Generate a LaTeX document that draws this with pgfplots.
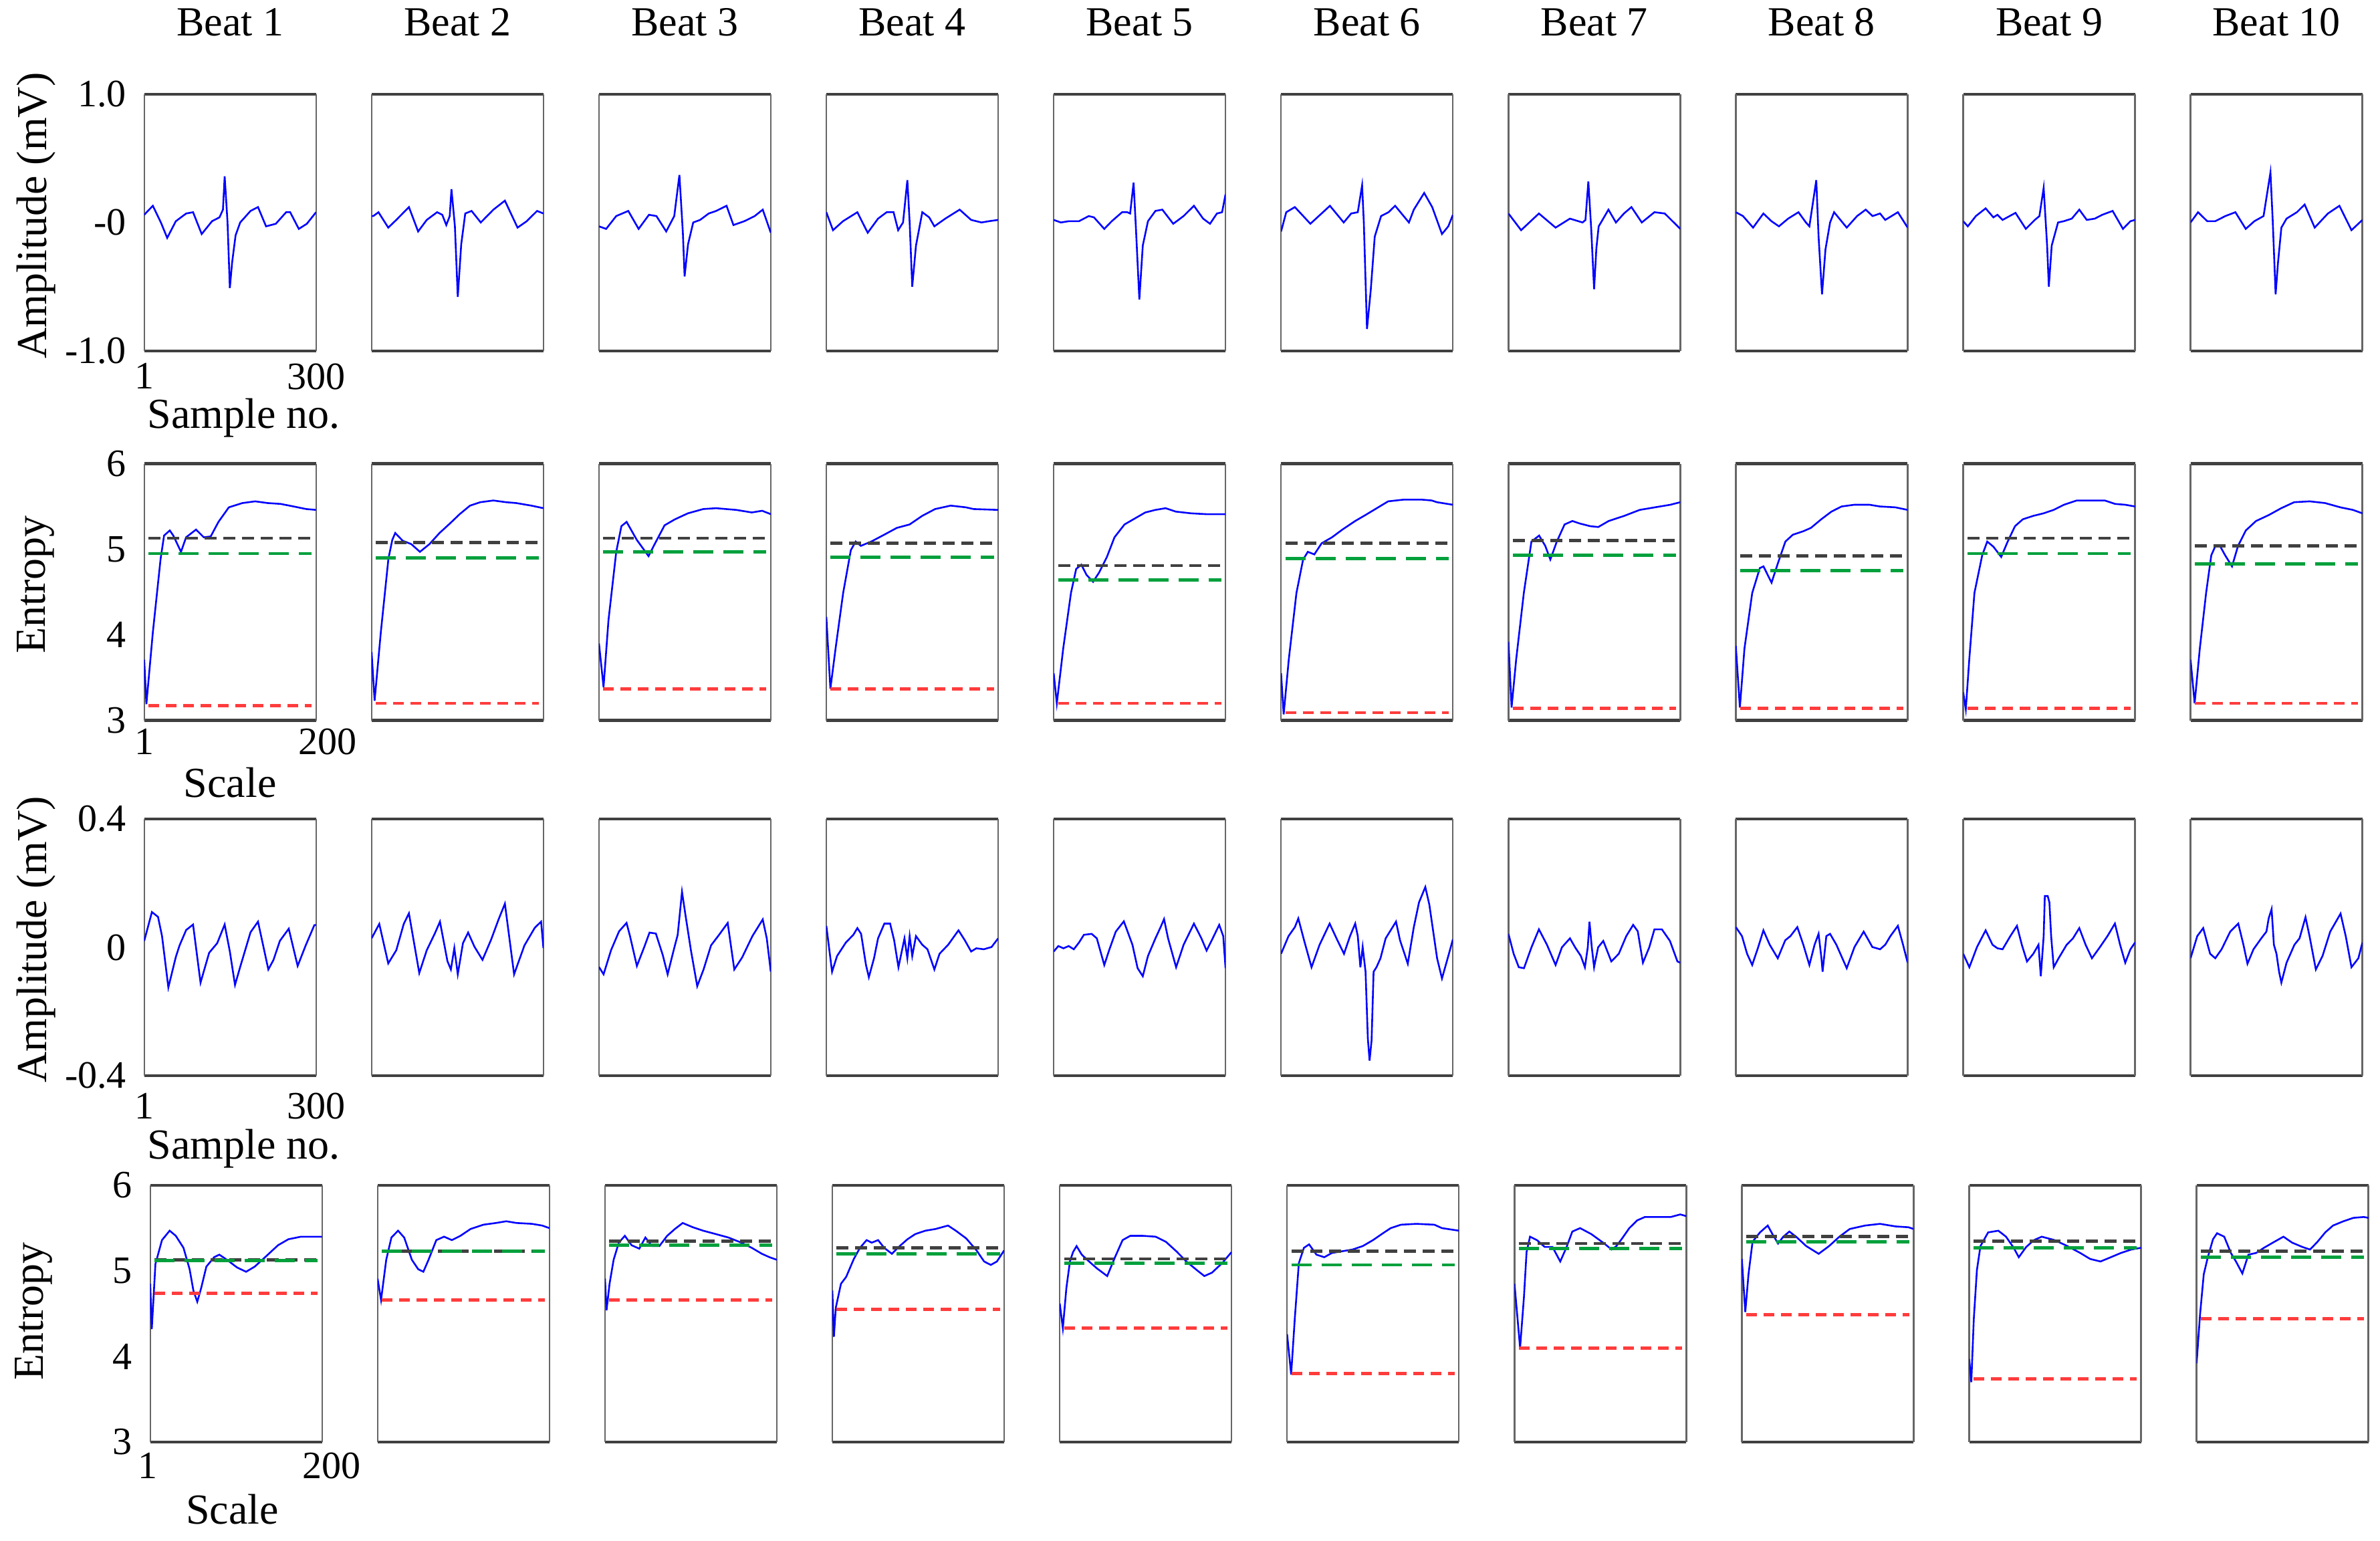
\documentclass[border=0pt]{standalone}
\usepackage{fontspec}
\setmainfont{Liberation Serif}
\usepackage{pgfplots}
\pgfplotsset{compat=1.18}

\definecolor{eblue}{RGB}{0,0,255}
\definecolor{egray}{RGB}{64,64,64}
\definecolor{egreen}{RGB}{0,160,60}
\definecolor{ered}{RGB}{255,60,60}

\newcommand{\tkfont}{\fontsize{14.5}{17}\selectfont}
\newcommand{\lbfont}{\fontsize{16}{19}\selectfont}
\newcommand{\titlefont}{\fontsize{15.5}{18}\selectfont}

\pgfplotsset{
 panel/.style={scale only axis, width=64.25pt, height=96pt, anchor=south west,
   xtick=\empty, ytick=\empty, major tick length=0pt,
   separate axis lines,
   x axis line style={line width=1.1pt, draw=black!75},
   y axis line style={line width=0.6pt, draw=black!60},
   tick label style={font=\tkfont},
   yticklabel style={anchor=east, inner sep=0pt, xshift=-6.5pt},
   xticklabel style={anchor=north, inner sep=0pt},
   label style={font=\lbfont, inner sep=0pt},
   title style={font=\titlefont, at={(axis description cs:0.5,1)}, anchor=base, yshift=15.8pt},
 },
 ecgA/.style={panel, xmin=1, xmax=300, ymin=-1, ymax=1},
 ecgB/.style={panel, xmin=1, xmax=300, ymin=-0.4, ymax=0.4},
 ent/.style={panel, xmin=1, xmax=200, ymin=3, ymax=6},
 sig/.style={eblue, line width=0.65pt},
 rk/.style={egray, line width=1.2pt, dash pattern=on 4.5pt off 2.5pt},
 rg/.style={egreen, line width=1.2pt, dash pattern=on 7.5pt off 3.75pt},
 rr/.style={ered, line width=1.2pt, dash pattern=on 4pt off 2.5pt},
}
\newcommand{\refs}[3]{%
 \addplot[rk] coordinates {(6,#1) (195,#1)};
 \addplot[rg] coordinates {(6,#2) (195,#2)};
 \addplot[rr] coordinates {(6,#3) (195,#3)};}

\begin{document}
\begin{tikzpicture}
\useasboundingbox (0,0) rectangle (890pt,576pt);

% ================= ROW 1 =================
\begin{axis}[ecgA, at={(53.93pt,444.8pt)}, title={Beat 1},
  ytick={-1,0,1}, yticklabels={-1.0,-0,1.0}, xtick={1,300}, xticklabels={1,300},
  xticklabel style={yshift=-4.5pt},
  xlabel={Sample no.}, xlabel style={at={(axis description cs:0.0156,-0.302)}, anchor=base west},
  ylabel={Amplitude (mV)}, ylabel style={at={(axis description cs:-0.630,0.526)}, anchor=center}]
\addplot[sig] coordinates {(1,0.06) (16,0.13) (30,0.0) (41,-0.12) (56,0.01) (74,0.07) (86,0.08) (101,-0.09) (119,0.01) (132,0.04) (138,0.1) (141,0.36) (146,0) (150,-0.51) (154,-0.31) (160,-0.1) (168,0) (186,0.09) (199,0.12) (213,-0.03) (230,-0.01) (248,0.08) (255,0.08) (270,-0.05) (284,-0.01) (300,0.08)};
\end{axis}
\begin{axis}[ecgA, at={(138.95pt,444.8pt)}, title={Beat 2}]
\addplot[sig] coordinates {(1,0.05) (4,0.05) (13,0.08) (30,-0.04) (44,0.02) (66,0.12) (82,-0.07) (97,0.02) (115,0.08) (124,0.06) (131,-0.02) (137,0.05) (140,0.26) (146,-0.03) (151,-0.58) (157,-0.17) (164,0.07) (175,0.09) (191,0) (213,0.1) (233,0.17) (255,-0.04) (271,0.01) (289,0.09) (300,0.07)};
\end{axis}
\begin{axis}[ecgA, at={(223.98pt,444.8pt)}, title={Beat 3}]
\addplot[sig] coordinates {(1,-0.03) (13.5,-0.05) (31,0.05) (52,0.09) (70,-0.05) (88,0.06) (101,0.05) (118,-0.07) (132,0.05) (141,0.37) (147,-0.08) (150,-0.42) (156,-0.17) (165,0) (177,0.02) (192,0.07) (205,0.09) (223,0.13) (235,-0.02) (254,0.01) (272,0.05) (286,0.1) (300,-0.08)};
\end{axis}
\begin{axis}[ecgA, at={(309.0pt,444.8pt)}, title={Beat 4}]
\addplot[sig] coordinates {(1,0.08) (12.6,-0.06) (30,0.01) (55,0.08) (73,-0.08) (91,0.03) (106,0.08) (118,0.08) (126,-0.06) (134.5,0) (142,0.33) (146,0) (150.5,-0.5) (157,-0.18) (168,0.08) (180,0.04) (189,-0.03) (208,0.03) (233,0.1) (253,0.02) (271,0) (284,0.01) (300,0.02)};
\end{axis}
\begin{axis}[ecgA, at={(394.03pt,444.8pt)}, title={Beat 5}]
\addplot[sig] coordinates {(1,0.02) (13.5,0) (27,0.01) (45,0.01) (62,0.05) (71,0.04) (89,-0.05) (102,0.01) (120,0.08) (129,0.08) (134,0.07) (140,0.31) (144,-0.04) (150,-0.6) (156,-0.18) (165,0.01) (178,0.09) (190,0.1) (209,-0.01) (227,0.05) (245,0.13) (261,0.03) (273,-0.01) (285,0.07) (294,0.08) (300,0.22)};
\end{axis}
\begin{axis}[ecgA, at={(479.05pt,444.8pt)}, title={Beat 6}]
\addplot[sig] coordinates {(1,-0.07) (10,0.08) (25,0.12) (52,-0.01) (86,0.13) (110,0) (123,0.07) (134.5,0.08) (142,0.29) (145,0) (150.5,-0.83) (157,-0.53) (164,-0.11) (175,0.05) (188,0.08) (199.5,0.13) (223.5,0) (232,0.1) (250,0.23) (264,0.12) (281,-0.09) (292,-0.03) (300,0.06)};
\end{axis}
\begin{axis}[ecgA, at={(564.08pt,444.8pt)}, title={Beat 7}]
\addplot[sig] coordinates {(1,0.07) (23,-0.06) (54,0.07) (83,-0.04) (108,0.03) (130,0) (135,0.02) (140,0.32) (145,-0.05) (150,-0.52) (154,-0.2) (158,-0.03) (162,0) (175,0.1) (188,0) (202,0.07) (215,0.12) (233,0) (255,0.08) (273,0.07) (300,-0.05)};
\end{axis}
\begin{axis}[ecgA, at={(649.1pt,444.8pt)}, title={Beat 8}]
\addplot[sig] coordinates {(1,0.08) (13.5,0.05) (31,-0.04) (49,0.07) (63,0.01) (76,-0.03) (92,0.03) (110,0.08) (123,0) (129,-0.03) (141,0.33) (145,-0.11) (151,-0.56) (157,-0.21) (165,0) (172,0.08) (194,-0.04) (212,0.05) (227,0.1) (239,0.05) (252,0.07) (261,0.02) (283,0.08) (300,-0.04)};
\end{axis}
\begin{axis}[ecgA, at={(734.13pt,444.8pt)}, title={Beat 9}]
\addplot[sig] coordinates {(1,0.01) (9,-0.03) (23,0.05) (40,0.11) (53.5,0.04) (60.6,0.06) (69.5,0.02) (92,0.075) (110,-0.05) (125.6,0.02) (133.6,0.05) (141,0.27) (147,-0.18) (150,-0.5) (155,-0.18) (166,0) (176,0.01) (190,0.03) (203,0.1) (216,0.02) (230,0.03) (243,0.06) (261,0.09) (279,-0.05) (292,0.01) (300,0.02)};
\end{axis}
\begin{axis}[ecgA, at={(819.15pt,444.8pt)}, title={Beat 10}]
\addplot[sig] coordinates {(1,0) (14,0.08) (30,0.01) (44,0.01) (61.5,0.05) (79,0.08) (97,-0.05) (112,0.01) (128,0.05) (140,0.39) (144,0.01) (149,-0.56) (153,-0.32) (159,-0.04) (168,0.03) (186,0.08) (199.5,0.14) (217,-0.04) (240,0.07) (260,0.13) (281,-0.06) (300,0.02)};
\end{axis}

% ================= ROW 2 =================
\begin{axis}[ent, at={(53.93pt,306.6pt)},
  ytick={3,4,5,6}, yticklabels={3,4,5,6}, xtick={1,200}, xticklabels={1,\hspace*{8.5pt}200},
  xticklabel style={yshift=-3pt},
  xlabel={Scale}, xlabel style={at={(axis description cs:0.5,-0.2995)}, anchor=base},
  ylabel={Entropy}, ylabel style={at={(axis description cs:-0.630,0.529)}, anchor=center}]
\addplot[sig] coordinates {(1,3.71) (3.5,3.19) (11,4.03) (20,4.89) (24,5.16) (30.6,5.22) (34.7,5.16) (43.6,4.97) (49.5,5.14) (61,5.23) (70,5.14) (78,5.15) (87,5.32) (99,5.49) (114.7,5.54) (129.5,5.56) (144,5.54) (159,5.53) (174,5.50) (188.7,5.47) (200,5.46)};
\refs{5.13}{4.95}{3.17}
\end{axis}
\begin{axis}[ent, at={(138.95pt,306.6pt)}]
\addplot[sig] coordinates {(1,3.80) (4.5,3.23) (11.7,4.03) (20.5,4.89) (25,5.11) (28.4,5.19) (37,5.10) (47,5.06) (57,4.97) (68,5.06) (79.7,5.19) (91.6,5.30) (103,5.41) (115,5.51) (127,5.55) (142,5.57) (156.7,5.55) (168.5,5.54) (186,5.51) (200,5.48)};
\refs{5.08}{4.90}{3.20}
\end{axis}
\begin{axis}[ent, at={(223.98pt,306.6pt)}]
\addplot[sig] coordinates {(1,3.90) (6.3,3.39) (12,4.17) (21,4.97) (27,5.27) (33,5.32) (44.8,5.11) (58.4,4.92) (65.5,5.06) (77,5.28) (89,5.35) (104,5.42) (121.8,5.47) (136.6,5.48) (148,5.47) (160,5.46) (178,5.43) (190,5.45) (200,5.41)};
\refs{5.13}{4.97}{3.37}
\end{axis}
\begin{axis}[ent, at={(309.0pt,306.6pt)}]
\addplot[sig] coordinates {(1,4.21) (5.7,3.37) (11.7,3.84) (20.5,4.49) (29.4,4.99) (35,5.09) (41,5.04) (53,5.09) (68,5.17) (82.7,5.25) (97.5,5.29) (112,5.39) (127,5.47) (145,5.51) (162.6,5.49) (171.5,5.47) (200,5.46)};
\refs{5.07}{4.91}{3.37}
\end{axis}
\begin{axis}[ent, at={(394.03pt,306.6pt)}]
\addplot[sig] coordinates {(1,3.55) (4.6,3.20) (12,3.84) (21,4.49) (27,4.77) (33,4.82) (39,4.70) (46.6,4.62) (53.7,4.73) (62.6,4.91) (71.4,5.14) (83,5.29) (95,5.36) (107,5.43) (118.8,5.46) (130.6,5.48) (142.5,5.44) (160,5.42) (178,5.41) (200,5.41)};
\refs{4.81}{4.64}{3.20}
\end{axis}
\begin{axis}[ent, at={(479.05pt,306.6pt)}]
\addplot[sig] coordinates {(1,3.55) (4,3.07) (9.9,3.71) (18.8,4.49) (26.5,4.88) (32,4.97) (39.5,4.94) (48,5.07) (60,5.14) (72,5.23) (86.8,5.33) (98.7,5.40) (113.5,5.49) (125,5.56) (143,5.58) (164,5.58) (175.6,5.57) (181.5,5.55) (200,5.52)};
\refs{5.07}{4.89}{3.09}
\end{axis}
\begin{axis}[ent, at={(564.08pt,306.6pt)}]
\addplot[sig] coordinates {(1,3.92) (4.6,3.15) (9.9,3.71) (18.8,4.49) (27.6,5.09) (36.5,5.16) (43.6,5.04) (49.5,4.88) (57,5.09) (66,5.29) (75,5.33) (83.9,5.30) (95.7,5.27) (105,5.26) (117,5.33) (135,5.39) (153,5.46) (170.6,5.49) (188.4,5.52) (200,5.55)};
\refs{5.10}{4.93}{3.14}
\end{axis}
\begin{axis}[ent, at={(649.1pt,306.6pt)}]
\addplot[sig] coordinates {(1,3.87) (5.7,3.15) (11,3.84) (20,4.49) (28.8,4.78) (33,4.80) (42.4,4.61) (49.5,4.83) (58.4,5.09) (67,5.17) (79,5.21) (88,5.25) (99.9,5.35) (111.7,5.44) (123.5,5.50) (138,5.52) (156,5.52) (168,5.50) (185.7,5.49) (200,5.46)};
\refs{4.92}{4.75}{3.14}
\end{axis}
\begin{axis}[ent, at={(734.13pt,306.6pt)}]
\addplot[sig] coordinates {(1,3.33) (4,3.13) (8,3.71) (14,4.49) (23,4.93) (28.8,5.09) (36,5.03) (45,4.91) (52.5,5.09) (61,5.27) (70,5.35) (82,5.39) (94,5.42) (105.8,5.46) (117.6,5.52) (132.4,5.57) (147,5.57) (165,5.57) (176.8,5.53) (188.7,5.52) (200,5.50)};
\refs{5.13}{4.95}{3.14}
\end{axis}
\begin{axis}[ent, at={(819.15pt,306.6pt)}]
\addplot[sig] coordinates {(1,3.71) (5.7,3.20) (11.7,3.84) (19,4.49) (25,4.93) (29.4,5.03) (35,5.04) (41,4.93) (49,4.80) (56,5.04) (65,5.22) (76.8,5.33) (91.6,5.40) (106,5.48) (121,5.55) (139,5.56) (156.7,5.54) (174.5,5.49) (189,5.46) (200,5.42)};
\refs{5.04}{4.83}{3.20}
\end{axis}

% ================= ROW 3 =================
\begin{axis}[ecgB, at={(53.93pt,173.75pt)},
  ytick={-0.4,0,0.4}, yticklabels={-0.4,0,0.4}, xtick={1,300}, xticklabels={1,300},
  xticklabel style={yshift=-6.25pt},
  xlabel={Sample no.}, xlabel style={at={(axis description cs:0.0156,-0.323)}, anchor=base west},
  ylabel={Amplitude (mV)}, ylabel style={at={(axis description cs:-0.630,0.53)}, anchor=center}]
\addplot[sig] coordinates {(1,0.02) (14.4,0.11) (25,0.095) (32,0.035) (43,-0.125) (56,-0.03) (62.5,0.006) (74,0.054) (86,0.071) (99,-0.11) (114,-0.017) (128,0.013) (141,0.071) (150,-0.013) (159,-0.117) (168,-0.061) (186,0.047) (199,0.08) (217,-0.069) (226,-0.039) (237,0.02) (252.5,0.058) (268,-0.058) (282,0.006) (297,0.069) (300,0.07)};
\end{axis}
\begin{axis}[ecgB, at={(138.95pt,173.75pt)}]
\addplot[sig] coordinates {(1,0.028) (14.4,0.073) (30,-0.05) (44,-0.009) (57,0.073) (66,0.106) (84,-0.08) (97,-0.009) (111,0.043) (120,0.08) (133,-0.043) (139,-0.069) (145,-0.002) (151,-0.084) (160,0.013) (169,0.046) (180,0.002) (194,-0.039) (209,0.024) (222,0.087) (233,0.136) (249,-0.084) (267,0.006) (285,0.061) (296,0.08) (300,-0.002)};
\end{axis}
\begin{axis}[ecgB, at={(223.98pt,173.75pt)}]
\addplot[sig] coordinates {(1,-0.061) (9,-0.084) (22,-0.009) (36,0.05) (49,0.076) (55,0.035) (67,-0.058) (80,0.002) (89,0.046) (100,0.043) (112,-0.024) (120.5,-0.084) (132,-0.002) (138,0.039) (145.5,0.173) (152,0.095) (161,-0.009) (172,-0.121) (183,-0.069) (196,0.006) (210,0.039) (225,0.076) (236.5,-0.069) (250,-0.032) (268,0.035) (286,0.087) (293,0.028) (300,-0.076)};
\end{axis}
\begin{axis}[ecgB, at={(309.0pt,173.75pt)}]
\addplot[sig] coordinates {(1,0.067) (11,-0.076) (19.7,-0.027) (35,0.015) (48,0.039) (55,0.06) (61.5,0.042) (70,-0.055) (75,-0.093) (84,-0.034) (91,0.028) (102,0.074) (112,0.074) (119,0.022) (126.5,-0.062) (137,0.028) (142,-0.034) (146,0.035) (150.5,-0.027) (157,0.035) (168,0.008) (177,-0.006) (189,-0.069) (198,-0.02) (213,0.008) (231,0.053) (242,0.022) (253,-0.013) (262,-0.003) (275,-0.006) (288.5,0.001) (300,0.028)};
\end{axis}
\begin{axis}[ecgB, at={(394.03pt,173.75pt)}]
\addplot[sig] coordinates {(1,-0.013) (9,0.004) (18,-0.003) (27,0.004) (36,-0.006) (45,0.015) (53.5,0.039) (67,0.042) (76,0.028) (89,-0.055) (98,-0.006) (109,0.049) (123,0.081) (138,0.008) (147,-0.065) (156,-0.09) (165,-0.027) (178,0.028) (187,0.063) (193,0.088) (200,0.028) (214,-0.062) (227,0.008) (245,0.074) (258,0.028) (267,-0.01) (276,0.022) (289,0.07) (296,0.035) (300,-0.065)};
\end{axis}
\begin{axis}[ecgB, at={(479.05pt,173.75pt)}]
\addplot[sig] coordinates {(1,-0.02) (14,0.035) (25,0.063) (31,0.09) (41,0.022) (54,-0.062) (68,0.008) (85.5,0.074) (99,0.022) (110.5,-0.02) (121,0.035) (130,0.074) (134.5,0.035) (139,-0.062) (143,0.001) (148,-0.076) (152,-0.284) (155,-0.353) (158.5,-0.29) (162,-0.076) (167,-0.062) (174,-0.034) (183,0.028) (201,0.08) (208,0.022) (221.5,-0.051) (232,0.063) (241,0.14) (252,0.188) (259,0.133) (272.5,-0.034) (281,-0.097) (292,-0.027) (300,0.025)};
\end{axis}
\begin{axis}[ecgB, at={(564.08pt,173.75pt)}]
\addplot[sig] coordinates {(1,0.042) (10,-0.02) (19,-0.062) (28,-0.065) (41,0) (54,0.056) (68,0.008) (83,-0.055) (94,0) (108,0.028) (117,0) (127,-0.027) (134,-0.062) (139,0) (142,0.08) (146,0) (150,-0.062) (157,0) (166,0.02) (180,-0.044) (193,-0.02) (206,0.035) (218,0.07) (226,0.05) (235,-0.048) (246,0) (255,0.056) (268,0.056) (282,0.02) (295,-0.044) (300,-0.048)};
\end{axis}
\begin{axis}[ecgB, at={(649.1pt,173.75pt)}]
\addplot[sig] coordinates {(1,0.063) (11.7,0.035) (20.6,-0.02) (29.5,-0.055) (40,0.001) (49,0.053) (60,0.008) (74,-0.034) (87,0.022) (96,0.035) (108,0.063) (118.5,0.008) (129,-0.055) (138,0.008) (145,0.042) (150,-0.034) (152,-0.076) (158.5,0.035) (165,0.042) (176,0.008) (194,-0.065) (207.5,0.001) (223.5,0.049) (238.6,0.001) (252,-0.006) (261,0.008) (270,0.035) (283,0.067) (292,0.008) (300,-0.048)};
\end{axis}
\begin{axis}[ecgB, at={(734.13pt,173.75pt)}]
\addplot[sig] coordinates {(1,-0.02) (11.7,-0.062) (25,0.001) (40,0.053) (52,0.008) (60.6,-0.003) (69.5,-0.006) (83,0.035) (94.5,0.067) (103,0.008) (112,-0.044) (123,-0.02) (132,0.008) (136,-0.09) (141,0.035) (143,0.16) (148,0.16) (151,0.14) (154,0.035) (158.5,-0.062) (167,-0.034) (181,0.008) (192,0.028) (203,0.06) (214,0.008) (225,-0.034) (239,0.001) (252,0.035) (265,0.074) (274,0.008) (283,-0.048) (292,-0.006) (300,0.015)};
\end{axis}
\begin{axis}[ecgB, at={(819.15pt,173.75pt)}]
\addplot[sig] coordinates {(1,-0.034) (12.6,0.035) (23,0.06) (35,-0.02) (44,-0.034) (55,-0.006) (70,0.049) (84,0.074) (93,0.008) (100,-0.051) (110.5,-0.006) (124,0.028) (133,0.049) (137,0.091) (142,0.119) (146,0.008) (150.5,-0.02) (155,-0.076) (159,-0.11) (168,-0.048) (181.7,0.008) (190.6,0.028) (201,0.094) (208,0.035) (219,-0.069) (230.6,-0.027) (244,0.049) (262,0.105) (271,0.035) (281,-0.062) (293,-0.034) (300,0.015)};
\end{axis}

% ================= ROW 4 =================
\begin{axis}[ent, at={(56.18pt,36.75pt)},
  ytick={3,4,5,6}, yticklabels={3,4,5,6}, xtick={1,200}, xticklabels={1\hspace*{2pt},\hspace*{7pt}200},
  xticklabel style={yshift=-3.75pt},
  xlabel={Scale}, xlabel style={at={(axis description cs:0.477,-0.320)}, anchor=base},
  ylabel={Entropy}, ylabel style={at={(axis description cs:-0.680,0.51)}, anchor=center}]
\addplot[sig] coordinates {(1,4.85) (2.8,4.32) (7,5.08) (14.6,5.36) (23.5,5.47) (30.6,5.41) (39.5,5.27) (46.6,5.02) (51,4.77) (55.5,4.64) (60,4.80) (66,5.05) (75,5.16) (81,5.19) (89.8,5.13) (101.6,5.04) (112,4.99) (122,5.05) (134,5.16) (149,5.30) (161,5.37) (175.6,5.40) (200,5.40)};
\refs{5.13}{5.12}{4.74}
\end{axis}
\begin{axis}[ent, at={(141.2pt,36.75pt)}]
\addplot[sig] coordinates {(1,4.91) (5,4.66) (11,5.13) (17,5.39) (24.7,5.47) (31.8,5.39) (40.7,5.13) (48,5.02) (54,4.99) (60,5.13) (69,5.36) (78,5.40) (87,5.36) (96.9,5.41) (108.7,5.49) (123.5,5.54) (138,5.56) (150,5.58) (162,5.56) (179.8,5.55) (191.6,5.53) (200,5.50)};
\refs{5.23}{5.23}{4.66}
\end{axis}
\begin{axis}[ent, at={(226.23pt,36.75pt)}]
\addplot[sig] coordinates {(1,4.91) (2.8,4.54) (6.3,4.85) (11,5.13) (17,5.33) (24,5.41) (31.8,5.30) (40.7,5.26) (47.8,5.39) (55.5,5.29) (64,5.29) (73,5.41) (82,5.49) (91,5.56) (102.8,5.51) (114.7,5.47) (129.5,5.43) (144,5.39) (159,5.33) (171,5.27) (182.7,5.20) (191.6,5.16) (200,5.13)};
\refs{5.35}{5.30}{4.66}
\end{axis}
\begin{axis}[ent, at={(311.25pt,36.75pt)}]
\addplot[sig] coordinates {(1,4.77) (2.8,4.23) (5,4.57) (11,4.85) (17,4.93) (25.9,5.14) (33,5.27) (40.7,5.36) (46.6,5.33) (54,5.36) (61,5.27) (70,5.20) (79,5.29) (88,5.37) (97,5.43) (108.7,5.47) (120.6,5.49) (135,5.53) (144,5.47) (156,5.38) (168,5.24) (176.8,5.11) (184.5,5.07) (191.6,5.11) (200,5.24)};
\refs{5.27}{5.20}{4.55}
\end{axis}
\begin{axis}[ent, at={(396.28pt,36.75pt)}]
\addplot[sig] coordinates {(1,4.62) (4.6,4.33) (8.7,4.80) (12.8,5.11) (16.4,5.22) (20.5,5.29) (26.5,5.19) (35,5.11) (44,5.03) (56,4.94) (65,5.16) (73.8,5.36) (82.7,5.41) (97.5,5.41) (112,5.40) (124,5.34) (136,5.23) (147.8,5.11) (159.7,5.01) (168.5,4.94) (177.4,4.98) (189,5.09) (200,5.22)};
\refs{5.14}{5.09}{4.33}
\end{axis}
\begin{axis}[ent, at={(481.3pt,36.75pt)}]
\addplot[sig] coordinates {(1,4.26) (5.7,3.79) (9.9,4.44) (14.6,5.09) (20.5,5.27) (26.5,5.31) (35,5.19) (44,5.16) (53,5.21) (65,5.23) (76.8,5.25) (88.6,5.29) (100.5,5.36) (112,5.44) (121,5.50) (133,5.54) (150.8,5.55) (171.5,5.54) (180.4,5.50) (200,5.47)};
\refs{5.23}{5.07}{3.80}
\end{axis}
\begin{axis}[ent, at={(566.33pt,36.75pt)}]
\addplot[sig] coordinates {(1,4.85) (7.5,4.10) (12,4.70) (15,5.22) (19,5.40) (27,5.36) (36,5.28) (45,5.28) (54,5.11) (61,5.27) (68,5.46) (77,5.50) (90,5.43) (105,5.32) (113.5,5.25) (119,5.29) (125,5.37) (134,5.50) (143,5.59) (152,5.63) (164,5.63) (182,5.63) (193,5.66) (200,5.64)};
\refs{5.32}{5.26}{4.10}
\end{axis}
\begin{axis}[ent, at={(651.35pt,36.75pt)}]
\addplot[sig] coordinates {(1,5.14) (5,4.52) (8.7,4.96) (13.4,5.34) (22,5.45) (31,5.53) (37,5.42) (43,5.32) (49,5.40) (56,5.46) (63.8,5.40) (75.6,5.29) (90,5.20) (102,5.29) (114,5.40) (126,5.49) (143.7,5.53) (161,5.55) (179,5.52) (194,5.51) (200,5.49)};
\refs{5.40}{5.34}{4.49}
\end{axis}
\begin{axis}[ent, at={(736.38pt,36.75pt)}]
\addplot[sig] coordinates {(1,3.97) (3.4,3.70) (6.3,4.44) (9.9,5.01) (14,5.29) (22.9,5.45) (34.7,5.47) (43.6,5.40) (52.5,5.27) (58.4,5.16) (67,5.28) (76,5.36) (85,5.40) (99.9,5.36) (114.7,5.29) (129.5,5.21) (141,5.14) (153,5.11) (165,5.16) (176.8,5.21) (188.7,5.25) (200,5.27)};
\refs{5.35}{5.27}{3.74}
\end{axis}
\begin{axis}[ent, at={(821.4pt,36.75pt)}]
\addplot[sig] coordinates {(1,3.92) (5,4.49) (9.3,4.96) (14,5.16) (20,5.37) (24.7,5.44) (33,5.40) (40.7,5.21) (46.6,5.11) (54,4.97) (61,5.19) (70,5.21) (79,5.27) (91,5.34) (101.6,5.40) (111.7,5.33) (123.5,5.28) (132.4,5.25) (141,5.34) (150,5.45) (159,5.53) (171,5.58) (182.7,5.62) (194.6,5.63) (200,5.62)};
\refs{5.23}{5.16}{4.44}
\end{axis}

\end{tikzpicture}
\end{document}
